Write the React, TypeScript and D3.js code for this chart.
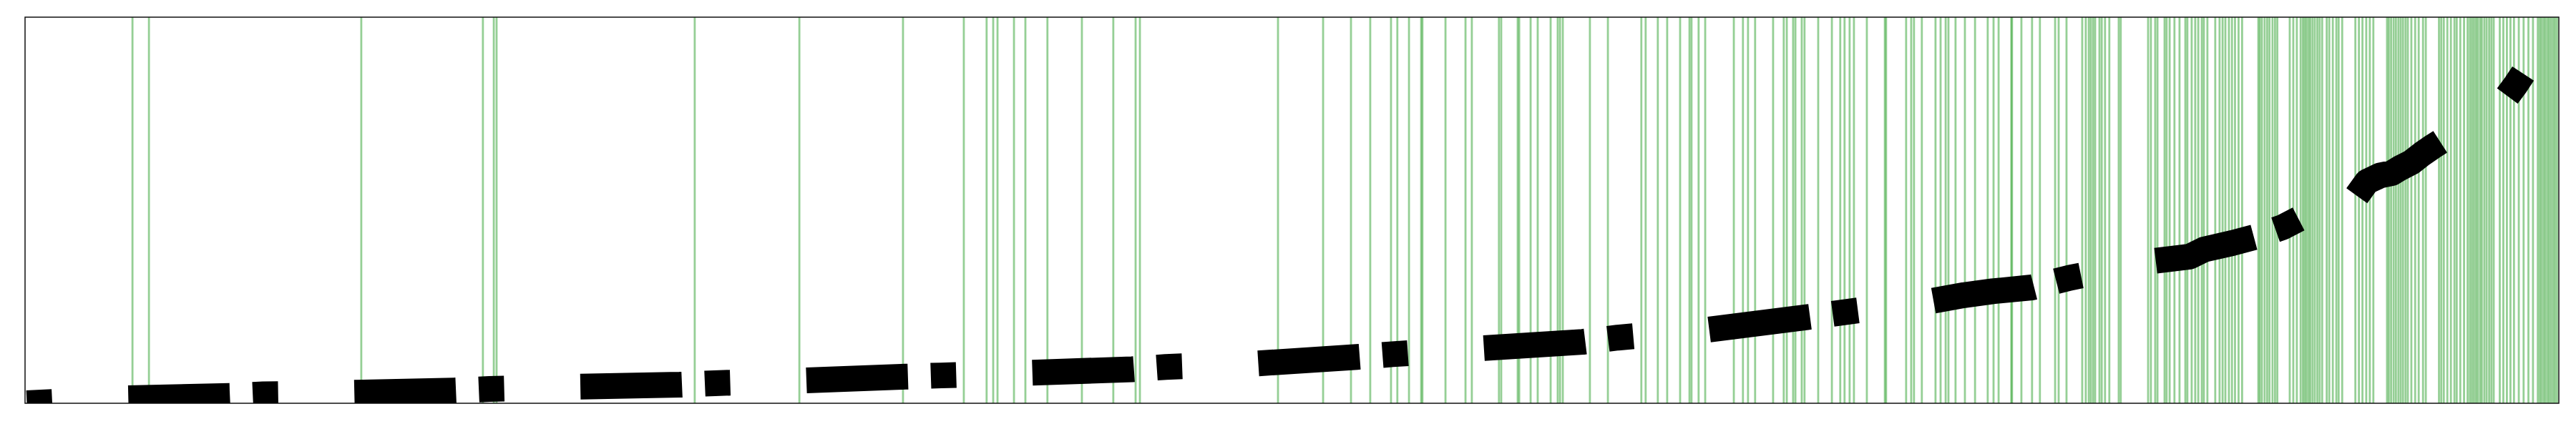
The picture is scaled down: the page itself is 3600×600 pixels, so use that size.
import React from 'react';
import * as d3 from 'd3';

// positions of the event markers (green vertical lines), x in 0..1000 units
const eventXs = [
  42.4, 48.9, 132.7, 180.7, 185.0, 186.1, 264.3, 305.6, 346.5, 370.5, 379.5, 382.1, 383.8, 390.3, 394.8,
  403.5, 417.1, 429.5, 438.3, 440.0, 494.5, 512.3, 523.3, 530.9, 539.1, 541.6, 546.2, 551.0, 551.5, 560.6,
  568.5, 571.0, 581.7, 582.6, 589.1, 589.7, 594.2, 597.0, 602.1, 604.9, 605.8, 606.9, 617.6, 624.7, 637.9,
  639.6, 644.4, 648.1, 653.2, 656.9, 657.7, 660.5, 663.1, 674.4, 678.0, 680.0, 682.8, 689.9, 694.1, 695.3,
  697.8, 698.7, 701.2, 702.3, 707.7, 713.1, 716.4, 718.1, 720.1, 721.8, 726.9, 734.0, 734.5, 742.4, 744.4,
  745.5, 748.6, 754.0, 756.0, 758.0, 759.1, 761.9, 765.6, 769.6, 774.6, 776.9, 778.9, 783.9, 784.2, 787.9,
  792.1, 795.2, 801.2, 802.6, 805.7, 811.9, 813.3, 814.5, 815.3, 816.2, 817.0, 818.7, 819.6, 820.9, 822.6,
  826.3, 827.1, 837.9, 839.0, 840.7, 841.6, 844.4, 845.2, 846.4, 848.3, 850.3, 852.6, 853.4, 855.1, 856.5,
  857.7, 859.1, 859.9, 861.3, 864.4, 866.1, 867.3, 868.4, 869.8, 871.0, 872.2, 873.6, 875.0, 881.4, 882.0,
  882.8, 883.9, 884.9, 885.8, 887.0, 888.0, 888.9, 893.8, 895.2, 896.6, 898.1, 899.0, 899.7, 900.4, 901.2,
  901.9, 902.8, 903.7, 904.7, 905.6, 906.6, 908.4, 909.4, 910.8, 912.2, 913.1, 914.5, 919.7, 921.1, 922.5,
  924.0, 925.4, 926.8, 932.2, 932.9, 933.8, 934.8, 935.7, 936.7, 937.6, 938.5, 939.5, 940.4, 941.8, 943.3,
  944.7, 946.4, 947.5, 952.7, 953.6, 954.6, 956.0, 957.4, 958.8, 959.7, 961.1, 962.6, 964.0, 964.9, 965.7,
  966.5, 967.3, 968.0, 968.9, 969.6, 970.6, 971.5, 972.5, 973.4, 974.3, 976.7, 978.1, 979.5, 980.9, 982.3,
  984.2, 986.1, 988.0, 989.8, 991.7, 992.5, 993.2, 994.0, 994.7, 995.5, 996.2, 997.0, 997.8, 998.5, 999.3,
];

// the rising series (null = break in the data)
const seriesX = [
  0, 40.7, 80.8, 94.0, 129.1, 169.2, 183.3, 218.3, 258.4, 272.2, 307.3, 347.6, 361.5, 396.5, 436.9,
  450.2, 486.0, 525.6, 539.7, 573.8, 614.8, 628.6, 663.4, 703.2, 718.2, 752.6, 765.2, 776.5, 792.0, 807.0,
  840.4, 854.3, 859.9, 871.2, 879.7, 891.0, 898.1, 902.9, 911.3, 924.3, 929.5, 934.0, 937.6, 941.8, 946.1,
  950.3, 956.0, 960.5, 970.0, 979.7, 983.1, 985.9,
];
const seriesY = [
  0, 1.3, 1.9, 2.3, 2.7, 3.3, 3.7, 4.3, 4.8, 5.2, 5.9, 6.9, 7.2, 7.9, 8.8,
  9.4, 10.3, 12.0, 12.7, 14.2, 15.9, 17.0, 19.0, 22.3, 23.6, 26.5, 28.0, 29.0, 30.0, 32.5,
  36.9, 38.0, 39.8, 41.5, 43.0, 45.6, 48.0, 46.5, 45.6, 57.4, 59.0, 59.6, 61.0, 62.4, 64.6,
  66.5, 68.9, 69.8, null, 79.6, 82.6, 85.4,
];

const W = 3600;
const H = 600;
const left = 35;
const right = 3576;
const top = 24;
const bottom = 564;
const lw = 36;

export default function App() {
  const x = d3.scaleLinear().domain([0, 1000]).range([left, right]);
  const y = d3.scaleLinear().domain([0, 100]).range([bottom, top]);

  // split into pieces at the nulls
  const pieces: [number, number][][] = [];
  let cur: [number, number][] = [];
  seriesX.forEach((xv, i) => {
    const yv = seriesY[i];
    if (yv == null) {
      if (cur.length) pieces.push(cur);
      cur = [];
    } else {
      cur.push([xv, yv]);
    }
  });
  if (cur.length) pieces.push(cur);

  const line = d3
    .line<[number, number]>()
    .x((d) => x(d[0]))
    .y((d) => y(d[1]));

  return (
    <svg
      width={W}
      height={H}
      style={{ position: 'absolute', left: 0, top: 0, background: '#fff' }}
    >
      <defs>
        <clipPath id="plotArea">
          <rect x={left} y={top} width={right - left} height={bottom - top} />
        </clipPath>
      </defs>
      <rect x={0} y={0} width={W} height={H} fill="#fff" />
      <g clipPath="url(#plotArea)">
        {eventXs.map((e, i) => (
          <line
            key={i}
            x1={x(e)}
            x2={x(e)}
            y1={top}
            y2={bottom}
            stroke="#2ca02c"
            strokeOpacity={0.5}
            strokeWidth={2.8}
          />
        ))}
        {pieces.map((p, i) => (
          <path
            key={i}
            d={line(p) || ''}
            fill="none"
            stroke="#000"
            strokeWidth={lw}
            strokeLinecap="butt"
            strokeLinejoin="round"
            strokeDasharray="142 32 35.5 106.5"
            strokeDashoffset={i === 0 ? 171.5 : 0}
          />
        ))}
      </g>
      <rect
        x={left}
        y={top}
        width={right - left}
        height={bottom - top}
        fill="none"
        stroke="#111"
        strokeWidth={1.5}
      />
    </svg>
  );
}
